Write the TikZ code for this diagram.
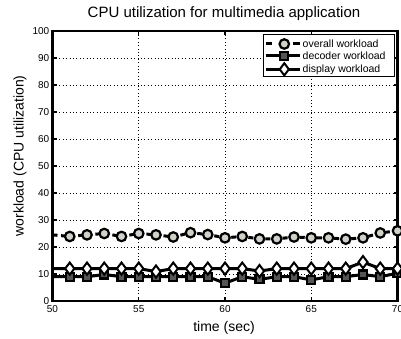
\documentclass[tikz,border=0pt]{standalone}
\usepackage{fontspec}
\setmainfont{Liberation Sans}
\usetikzlibrary{shapes.geometric}
\definecolor{circfill}{RGB}{212,208,200}
\definecolor{sqfill}{RGB}{85,85,85}
\begin{document}
\begin{tikzpicture}[x=1pt,y=1pt,
  axisline/.style={line width=2.8pt, line cap=rect},
  gridline/.style={line width=0.7pt, dash pattern=on 0.8pt off 2.6pt},
  tickmark/.style={line width=1.2pt},
  dataline/.style={line width=3pt, line join=round},
  circmark/.style={circle, draw=black, line width=2.2pt, fill=circfill, minimum size=9.5pt, inner sep=0pt},
  sqmark/.style={rectangle, draw=black, line width=2.1pt, fill=sqfill, minimum size=8pt, inner sep=0pt},
  diamark/.style={diamond, draw=black, line width=2pt, fill=white, minimum width=10pt, minimum height=13pt, inner sep=0pt},
  ticklab/.style={font=\fontsize{10}{12}\selectfont, inner sep=1pt},
  leglab/.style={font=\fontsize{10.5}{12}\selectfont, anchor=west, inner sep=0pt},
]
\useasboundingbox (0,0) rectangle (401,339);
\clip (0,0) rectangle (401,339);
\fill[white] (0,0) rectangle (401,339);

\node[font=\fontsize{15}{18}\selectfont] (title) at (224,325) {CPU utilization for multimedia application};
\node[font=\fontsize{14}{16}\selectfont] (xlab) at (224,11) {time (sec)};
\node[font=\fontsize{14}{16}\selectfont, rotate=90] (ylab) at (20,183) {workload (CPU utilization)};

\begin{scope}[shift={(52.5,38)}, x=17.25pt, y=2.7pt]
  % grid
  \foreach \v in {10,20,...,90} \draw[gridline] (0,\v) -- (20,\v);
  \foreach \d in {5,10,15} \draw[gridline] (\d,0) -- (\d,100);
  % ticks
  \foreach \v in {10,20,...,90} {
    \draw[tickmark] (0,\v) -- ++(4pt,0);
    \draw[tickmark] (20,\v) -- ++(-4pt,0);
  }
  \foreach \d in {5,10,15} {
    \draw[tickmark] (\d,0) -- ++(0,4pt);
    \draw[tickmark] (\d,100) -- ++(0,-4pt);
  }
  % tick labels
  \foreach \v in {0,10,...,100} \node[ticklab, anchor=east] (yl\v) at ([xshift=-2pt]0,\v) {\v};
  \foreach \d/\t in {0/50,5/55,10/60,15/65,20/70} \node[ticklab] (xl\t) at ([yshift=-8.5pt]\d,0) {\t};
  % axes box
  \draw[axisline] (0,0) rectangle (20,100);

  % overall workload
  \draw[dataline, dash pattern=on 5pt off 3.6pt] plot coordinates {(0,24.5) (1,23.9) (2,24.5) (3,25.0) (4,23.9) (5,25.0) (6,24.5) (7,23.7) (8,25.3) (9,24.6) (10,23.4) (11,23.9) (12,23.0) (13,23.0) (14,23.7) (15,23.4) (16,23.4) (17,22.9) (18,23.4) (19,25.2) (20,26.0)};
  \foreach \d/\v in {1/23.9,2/24.5,3/25.0,4/23.9,5/25.0,6/24.5,7/23.7,8/25.3,9/24.6,10/23.4,11/23.9,12/23.0,13/23.0,14/23.7,15/23.4,16/23.4,17/22.9,18/23.4,19/25.2,20/26.0}
    \node[circmark] (o\d) at (\d,\v) {};

  % display workload
  \draw[dataline] plot coordinates {(0,12) (1,12) (2,12) (3,12) (4,12) (5,12) (6,10.9) (7,12) (8,12) (9,12) (10,12) (11,12) (12,11.1) (13,12) (14,12) (15,12) (16,12) (17,12) (18,14.4) (19,12) (20,12)};
  % decoder workload
  \draw[dataline] plot coordinates {(0,9) (1,9) (2,9) (3,9.8) (4,9) (5,9) (6,9) (7,9) (8,9) (9,9) (10,6.6) (11,9) (12,8) (13,9) (14,9) (15,7.8) (16,9) (17,9) (18,9.8) (19,9) (20,10.3)};
  \foreach \d/\v in {1/9,2/9,3/9.8,4/9,5/9,6/9,7/9,8/9,9/9,10/6.6,11/9,12/8,13/9,14/9,15/7.8,16/9,17/9,18/9.8,19/9,20/10.3}
    \node[sqmark] (s\d) at (\d,\v) {};
  \foreach \d/\v in {1/12,2/12,3/12,4/12,5/12,6/10.9,7/12,8/12,9/12,10/12,11/12,12/11.1,13/12,14/12,15/12,16/12,17/12,18/14.4,19/12,20/12}
    \node[diamark] (d\d) at (\d,\v) {};
\end{scope}

% legend
\draw[line width=0.9pt, fill=white] (263,305) rectangle (394,262.5);
\draw[dataline] (265.5,295) -- (272,295);
\draw[dataline] (293,295) -- (299.5,295);
\node[circmark] (lgo) at (284.3,295) {};
\node[leglab] (lgotxt) at (302.5,295) {overall workload};
\draw[dataline] (265.5,283) -- (299.5,283);
\node[sqmark] (lgs) at (284.3,283) {};
\node[leglab] (lgstxt) at (302.5,283) {decoder workload};
\draw[dataline] (265.5,269.7) -- (299.5,269.7);
\node[diamark] (lgd) at (284.3,269.7) {};
\node[leglab] (lgdtxt) at (302.5,269.7) {display workload};
\end{tikzpicture}
\end{document}
